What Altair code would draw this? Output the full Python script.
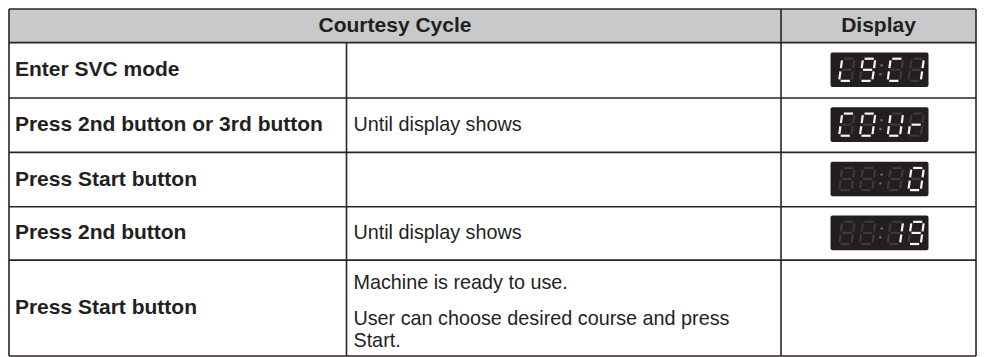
import altair as alt
import pandas as pd

# ---------------- content ----------------
header = ["Courtesy Cycle", "Display"]
steps = [
    "Enter SVC mode",
    "Press 2nd button or 3rd button",
    "Press Start button",
    "Press 2nd button",
    "Press Start button",
]
notes = [
    [],
    ["Until display shows"],
    [],
    ["Until display shows"],
    ["Machine is ready to use.", "User can choose desired course and press", "Start."],
]
displays = ["L9C1", "COUr", "   0", "  19", ""]

# 7-segment patterns of the characters shown on the LED display
seg_map = {"L": "def", "9": "abcdfg", "C": "adef", "1": "bc", "O": "abcdef",
           "U": "bcdef", "r": "eg", "0": "abcdef", " ": ""}

# ---------------- layout (reference pixel units) ----------------
X0, C1, C2, X1 = 4, 345, 784, 981
ROWS = [4, 38, 94, 149, 204, 258, 355]
NOTE_OFFSETS = [[0], [0], [0], [0], [-25.5, 11.5, 33.5]]
LED_CX, LED_W, LED_H = 883.5, 99, 35
DIGIT_DX = [-33, -12, 16, 37]
COLON_DX = 1.5
SEG_W, SEG_H, GAP, SLANT = 12.5, 11.2, 1.6, 0.14

INK = "#231f20"
FONT = "Liberation Sans"
FS_BOLD = 21
FS_REG = 19.8

xs = alt.Scale(domain=[3, 982], nice=False, zero=False)
ys = alt.Scale(domain=[3, 356], nice=False, zero=False, reverse=True)

def X(f):
    return alt.X(f"{f}:Q", scale=xs, axis=None)

def Y(f):
    return alt.Y(f"{f}:Q", scale=ys, axis=None)

row_c = [(ROWS[i + 1] + ROWS[i + 2]) / 2 for i in range(len(steps))]

# header background
hdr_bg = pd.DataFrame([{"x": X0, "x2": X1, "y": ROWS[0], "y2": ROWS[1]}])
hdr_rect = alt.Chart(hdr_bg).mark_rect(color="#c8c9cb").encode(
    x=X("x"), x2="x2", y=Y("y"), y2="y2")

# grid lines
lines = []
for r in ROWS:
    lines.append({"x": X0, "x2": X1, "y": r, "y2": r})
lines.append({"x": X0, "x2": X0, "y": ROWS[0], "y2": ROWS[-1]})
lines.append({"x": X1, "x2": X1, "y": ROWS[0], "y2": ROWS[-1]})
lines.append({"x": C1, "x2": C1, "y": ROWS[1], "y2": ROWS[-1]})
lines.append({"x": C2, "x2": C2, "y": ROWS[0], "y2": ROWS[-1]})
grid = alt.Chart(pd.DataFrame(lines)).mark_rule(color="#2a2526", strokeWidth=1.6).encode(
    x=X("x"), x2="x2", y=Y("y"), y2="y2")

# header texts
hdr_df = pd.DataFrame([
    {"x": (X0 + C2) / 2, "y": (ROWS[0] + ROWS[1]) / 2, "t": header[0]},
    {"x": (C2 + X1) / 2, "y": (ROWS[0] + ROWS[1]) / 2, "t": header[1]},
])
hdr_text = alt.Chart(hdr_df).mark_text(
    font=FONT, fontSize=FS_BOLD, fontWeight="bold", align="center", baseline="middle", color=INK
).encode(x=X("x"), y=Y("y"), text="t:N")

# step texts
step_df = pd.DataFrame([{"x": X0 + 6, "y": row_c[i], "t": s} for i, s in enumerate(steps)])
step_text = alt.Chart(step_df).mark_text(
    font=FONT, fontSize=FS_BOLD, fontWeight="bold", align="left", baseline="middle", color=INK
).encode(x=X("x"), y=Y("y"), text="t:N")

# note texts
note_rows = []
for i, ls in enumerate(notes):
    for j, t in enumerate(ls):
        note_rows.append({"x": C1 + 7, "y": row_c[i] + NOTE_OFFSETS[i][j], "t": t})
note_text = alt.Chart(pd.DataFrame(note_rows)).mark_text(
    font=FONT, fontSize=FS_REG, align="left", baseline="middle", color=INK
).encode(x=X("x"), y=Y("y"), text="t:N")

# LED displays
led_rows, segs, dots = [], [], []
for i, disp in enumerate(displays):
    if not disp:
        continue
    cy = row_c[i] - 0.5
    led_rows.append({"x": LED_CX - LED_W / 2, "x2": LED_CX + LED_W / 2,
                     "y": cy - LED_H / 2, "y2": cy + LED_H / 2})
    for k, ch in enumerate(disp):
        cx = LED_CX + DIGIT_DX[k]
        L, R = cx - SEG_W / 2, cx + SEG_W / 2
        T, M, B = cy - SEG_H, cy, cy + SEG_H
        g = GAP
        geo = {
            "a": ((L + g, T), (R - g, T)),
            "b": ((R, T + g), (R, M - g)),
            "c": ((R, M + g), (R, B - g)),
            "d": ((L + g, B), (R - g, B)),
            "e": ((L, M + g), (L, B - g)),
            "f": ((L, T + g), (L, M - g)),
            "g": ((L + g, M), (R - g, M)),
        }
        for s, (p, q) in geo.items():
            lit = s in seg_map.get(ch, "")
            segs.append({
                "x": p[0] + (cy - p[1]) * SLANT, "y": p[1],
                "x2": q[0] + (cy - q[1]) * SLANT, "y2": q[1],
                "c": "#f4f4f4" if lit else "#3e3a3b", "o": 1 if lit else 0,
            })
    cx = LED_CX + COLON_DX
    for dy in (-4.5, 4.5):
        dots.append({"x": cx - dy * SLANT, "y": cy + dy})

led = alt.Chart(pd.DataFrame(led_rows)).mark_rect(color=INK, cornerRadius=2).encode(
    x=X("x"), x2="x2", y=Y("y"), y2="y2")
seg_df = pd.DataFrame(segs).sort_values("o")
seg = alt.Chart(seg_df).mark_rule(strokeWidth=2.2, strokeCap="butt").encode(
    x=X("x"), x2="x2", y=Y("y"), y2="y2",
    color=alt.Color("c:N", scale=None), order="o:Q")
colon = alt.Chart(pd.DataFrame(dots)).mark_circle(size=7, color="#6a6667", opacity=1).encode(
    x=X("x"), y=Y("y"))

chart = alt.layer(hdr_rect, hdr_text, step_text, note_text, led, seg, colon, grid).properties(
    width=969, height=349, padding=0, autosize=alt.AutoSizeParams(type="none")
).configure_view(stroke=None)

chart.save("out.html", embed_options={"renderer": "svg", "actions": False})
